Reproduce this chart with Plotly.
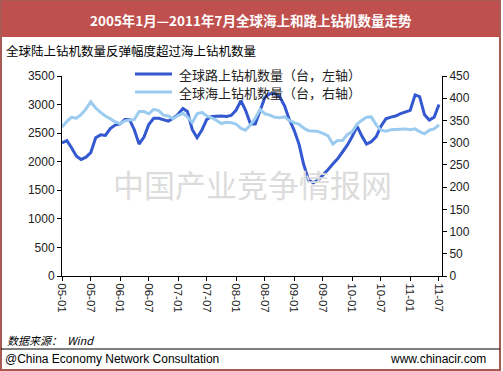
import plotly.graph_objects as go
import pandas as pd

# ---- data ----
months = pd.date_range("2005-01-01", "2011-07-01", freq="MS").strftime("%Y-%m-%d").tolist()

land_rigs = [2330, 2370, 2250, 2100, 2040, 2080, 2160, 2420, 2470, 2460,
             2580, 2640, 2660, 2740, 2740, 2560, 2310, 2430, 2650, 2760,
             2760, 2740, 2710, 2760, 2830, 2930, 2880, 2560, 2420, 2560,
             2740, 2790, 2800, 2800, 2790, 2810, 2900, 3070, 2900, 2660,
             2660, 2900, 3130, 3190, 3195, 3140, 2980, 2740, 2550, 2300,
             1960, 1680, 1630, 1680, 1760, 1860, 1960, 2050, 2170, 2290,
             2440, 2620, 2460, 2310, 2350, 2440, 2620, 2750, 2780, 2800,
             2840, 2870, 2900, 3170, 3140, 2820, 2730, 2780, 3000]

offshore_rigs = [335, 348, 357, 355, 363, 376, 392, 378, 368, 360,
                 354, 347, 343, 349, 351, 352, 370, 370, 365, 375,
                 372, 362, 360, 354, 361, 366, 358, 345, 365, 368,
                 360, 356, 350, 343, 346, 345, 342, 332, 328, 340,
                 355, 375, 365, 362, 357, 356, 358, 350, 345, 341,
                 333, 327, 326, 325, 321, 316, 297, 305, 305, 318,
                 325, 342, 350, 357, 358, 340, 328, 326, 329, 330,
                 330, 331, 329, 331, 325, 320, 328, 331, 340]

left_ticks = [0, 500, 1000, 1500, 2000, 2500, 3000, 3500]
right_ticks = [0, 50, 100, 150, 200, 250, 300, 350, 400, 450]

land_name = "全球路上钻机数量（台，左轴）"
offshore_name = "全球海上钻机数量（台，右轴）"
title_text = "2005年1月—2011年7月全球海上和路上钻机数量走势"
subtitle_text = "全球陆上钻机数量反弹幅度超过海上钻机数量"
watermark = "中国产业竞争情报网"

W, H = 503, 371
L, R, T, B = 62, 442, 76, 276

fig = go.Figure()
fig.add_trace(go.Scatter(x=months, y=offshore_rigs, name=offshore_name, yaxis="y2",
                         mode="lines", line=dict(color="#9CCBF0", width=3),
                         showlegend=False))
fig.add_trace(go.Scatter(x=months, y=land_rigs, name=land_name, yaxis="y",
                         mode="lines", line=dict(color="#3458D0", width=3),
                         showlegend=False))

axis_font = dict(family="Liberation Sans, Arial", size=12, color="#222")
fig.update_layout(
    width=W, height=H,
    margin=dict(l=L, r=W - R, t=T, b=H - B, pad=0),
    paper_bgcolor="white", plot_bgcolor="white",
    showlegend=False,
    xaxis=dict(type="date", range=["2005-01-01", "2011-07-20"],
               tickvals=months[::6], tickformat="%y-%m", tickangle=90,
               ticks="outside", ticklen=4, tickcolor="#000",
               showline=True, linecolor="#000", linewidth=1,
               showgrid=False, zeroline=False,
               tickfont=dict(family="Liberation Sans, Arial", size=11.5, color="#222")),
    yaxis=dict(range=[0, 3500], tickvals=left_ticks, ticks="outside", ticklen=4,
               tickcolor="#000", showline=True, linecolor="#000", linewidth=1,
               showgrid=False, zeroline=False, tickfont=axis_font),
    yaxis2=dict(range=[0, 450], tickvals=right_ticks, overlaying="y", side="right",
                ticks="outside", ticklen=4, tickcolor="#000", showline=True,
                linecolor="#000", linewidth=1, showgrid=False, zeroline=False,
                tickfont=axis_font),
)

# convert page pixels to paper coordinates (paper = plot area)
def px_x(x):
    return (x - L) / (R - L)

def px_y(y):
    return (B - y) / (B - T)

shapes = []
shapes.append(dict(type="rect", xref="paper", yref="paper",
                   x0=px_x(0), x1=px_x(500), y0=px_y(37), y1=px_y(0),
                   fillcolor="#C0504D", line=dict(width=0), layer="below"))
shapes.append(dict(type="rect", xref="paper", yref="paper",
                   x0=px_x(1), x1=px_x(500), y0=px_y(370), y1=px_y(0),
                   fillcolor="rgba(0,0,0,0)", line=dict(color="#A85A55", width=2)))
shapes.append(dict(type="line", xref="paper", yref="paper",
                   x0=px_x(1), x1=px_x(500), y0=px_y(349), y1=px_y(349),
                   line=dict(color="#000", width=1)))
shapes.append(dict(type="line", xref="paper", yref="paper",
                   x0=px_x(135), x1=px_x(172), y0=px_y(74), y1=px_y(74),
                   line=dict(color="#3458D0", width=3)))
shapes.append(dict(type="line", xref="paper", yref="paper",
                   x0=px_x(135), x1=px_x(172), y0=px_y(92), y1=px_y(92),
                   line=dict(color="#9CCBF0", width=3)))

cjk = "Noto Sans CJK SC"
def ann(text, x, y, anchor, font):
    return dict(text=text, x=px_x(x), y=px_y(y), xref="paper", yref="paper",
                showarrow=False, xanchor=anchor, yanchor="middle", font=font)

annotations = [
    ann("<b>" + title_text + "</b>", 251, 20, "center", dict(family=cjk, size=13.5, color="white")),
    ann(subtitle_text, 4, 50, "left", dict(family=cjk, size=12.5, color="#000")),
    ann(watermark, 252, 183, "center", dict(family=cjk, size=31, color="#DCDCDC")),
    ann(land_name, 177, 74, "left", dict(family=cjk, size=13, color="#222")),
    ann(offshore_name, 177, 92, "left", dict(family=cjk, size=13, color="#222")),
    ann("<i>数据来源：  Wind</i>", 5, 340, "left", dict(family=cjk, size=11, color="#000")),
    ann("@China Economy Network Consultation", 3, 359, "left",
        dict(family="Liberation Sans, Arial", size=12, color="#000")),
    ann("www.chinacir.com", 488, 359, "right",
        dict(family="Liberation Sans, Arial", size=12, color="#000")),
]
fig.update_layout(shapes=shapes, annotations=annotations)

fig.write_html("out.html", config={"displayModeBar": False},
               post_script="document.body.style.margin='0';")
